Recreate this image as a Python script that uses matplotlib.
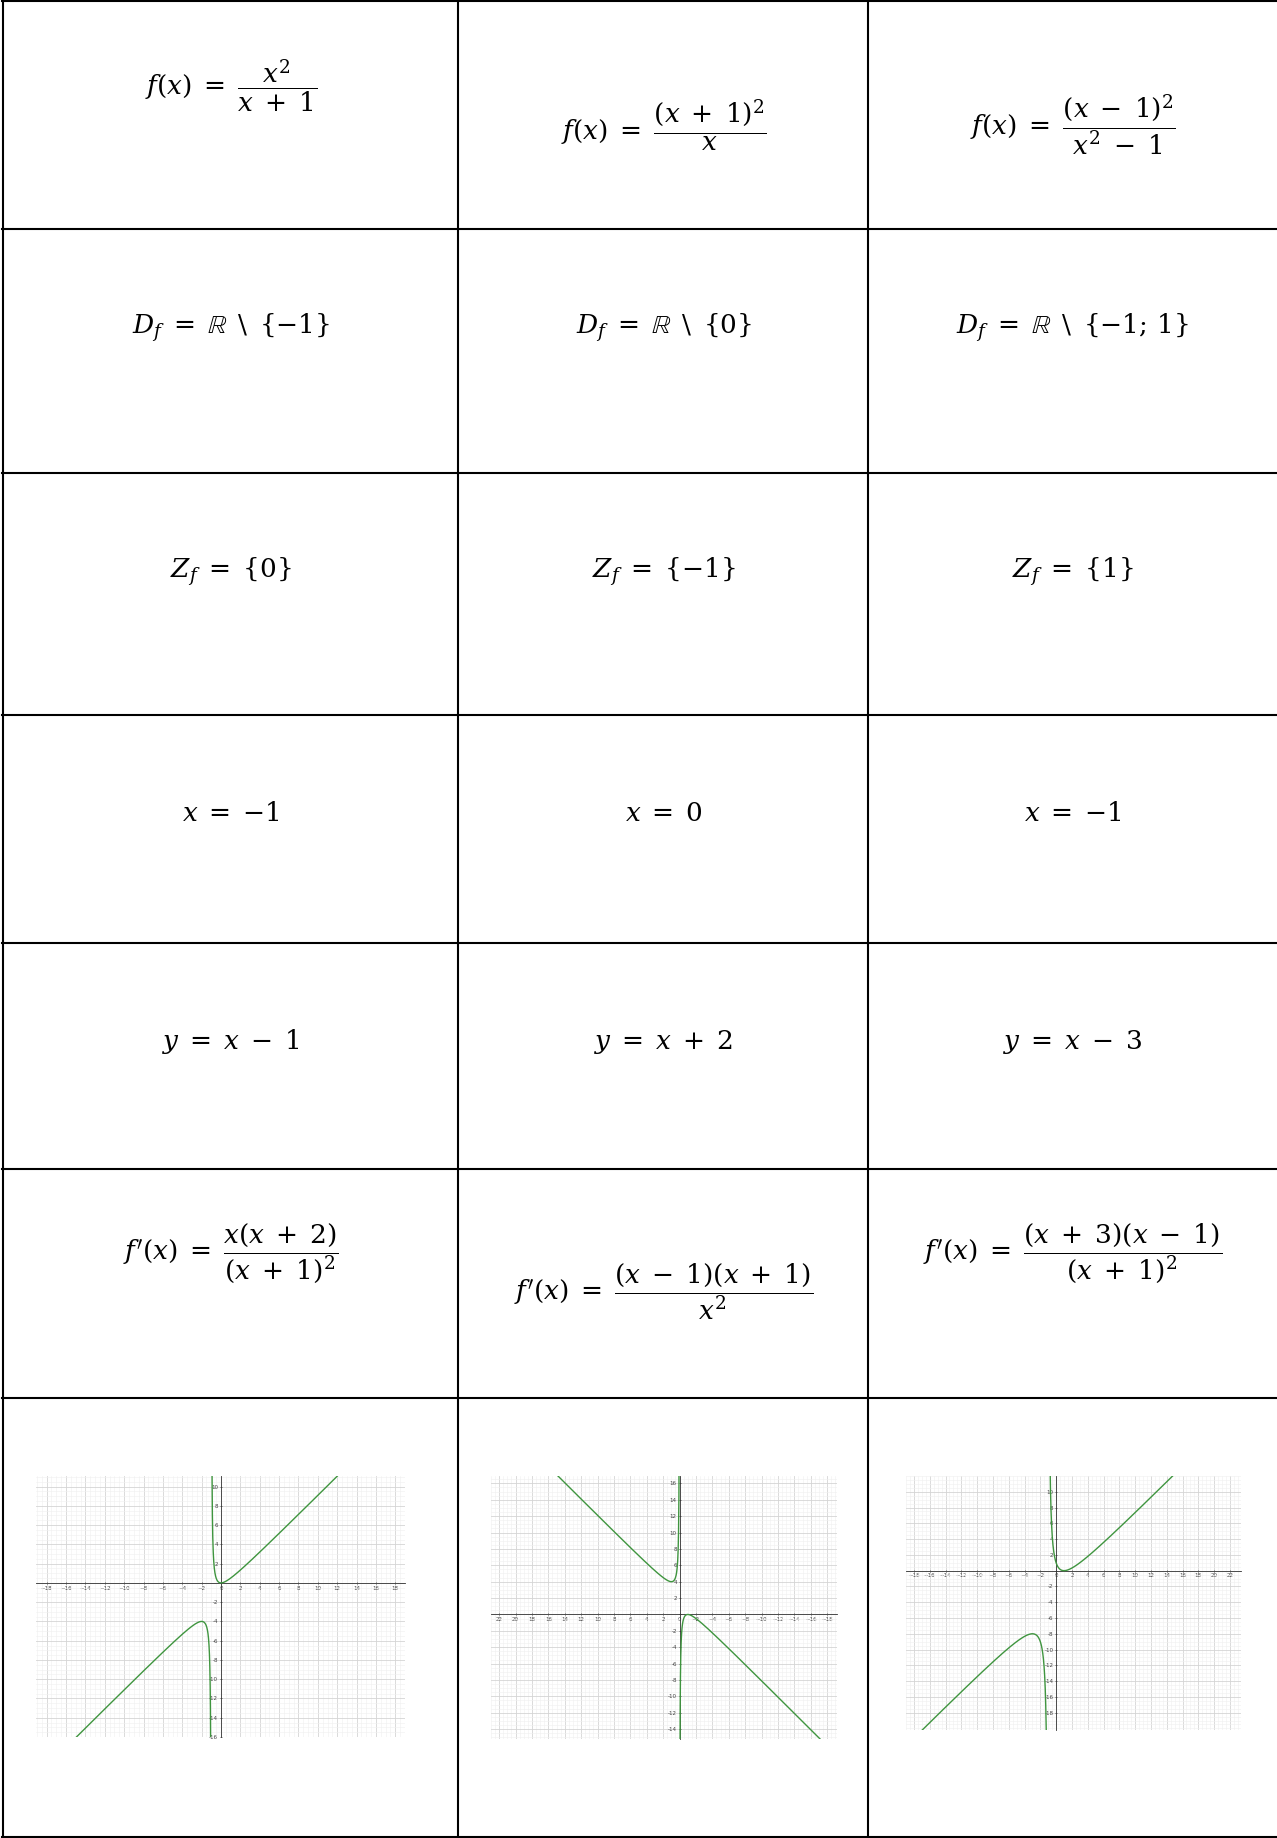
import numpy as np
import matplotlib.pyplot as plt
from matplotlib.lines import Line2D
from matplotlib.ticker import MultipleLocator, FuncFormatter

W, H = 1277, 1838
plt.rcParams['mathtext.fontset'] = 'dejavuserif'

# ----------------------------
# Table content
# ----------------------------
row1 = [r"$f(x)\;=\;\dfrac{x^2}{x\;+\;1}$",
        r"$f(x)\;=\;\dfrac{(x\;+\;1)^2}{x}$",
        r"$f(x)\;=\;\dfrac{(x\;-\;1)^2}{x^2\;-\;1}$"]
row2 = [r"$D_f\;=\;\mathbb{R}\enspace\backslash\enspace\{-1\}$",
        r"$D_f\;=\;\mathbb{R}\enspace\backslash\enspace\{0\}$",
        r"$D_f\;=\;\mathbb{R}\enspace\backslash\enspace\{-1;\,1\}$"]
row3 = [r"$Z_f\;=\;\{0\}$", r"$Z_f\;=\;\{-1\}$", r"$Z_f\;=\;\{1\}$"]
row4 = [r"$x\;=\;{-1}$", r"$x\;=\;0$", r"$x\;=\;{-1}$"]
row5 = [r"$y\;=\;x\;-\;1$", r"$y\;=\;x\;+\;2$", r"$y\;=\;x\;-\;3$"]
row6 = [r"$f'(x)\;=\;\dfrac{x(x\;+\;2)}{(x\;+\;1)^2}$",
        r"$f'(x)\;=\;\dfrac{(x\;-\;1)(x\;+\;1)}{x^2}$",
        r"$f'(x)\;=\;\dfrac{(x\;+\;3)(x\;-\;1)}{(x\;+\;1)^2}$"]
rows = [row1, row2, row3, row4, row5, row6]

# graph data: numerator a*x^2 + b*x + c, denominator d*x + e
graph_num = [(1, 0, 0), (1, 2, 1), (1, -2, 1)]
graph_den = [(1, 1), (1, 0), (1, 1)]
graph_pole = [-1, 0, -1]
graph_xticks = [np.arange(-18, 19, 2), np.arange(-18, 23, 2), np.arange(-18, 23, 2)]
graph_yticks = [np.arange(-16, 11, 2), np.arange(-14, 17, 2), np.arange(-18, 11, 2)]
graph_xlim = [(-19.1, 19.0), (23.0, -19.2), (-19.0, 23.4)]
graph_ylim = [(-15.9, 11.1), (-15.2, 16.9), (-20.2, 12.0)]

# ----------------------------
# Layout (pixels)
# ----------------------------
col_lines = [3, 458, 868]
row_lines = [1, 229, 473, 715, 943, 1169, 1398, 1837]
col_centers = [231, 664, 1073]
text_y = [[86, 125, 125], [328] * 3, [572] * 3, [814] * 3, [1042] * 3,
          [1253, 1292, 1253]]
graph_box = [(36, 1476, 405, 1737), (491, 1476, 837, 1739), (906, 1476, 1241, 1730)]


def fx(x):
    return x / W


def fy(y):
    return 1 - y / H


fig = plt.figure(figsize=(W / 100, H / 100), dpi=100)

for x in col_lines:
    fig.add_artist(Line2D([fx(x), fx(x)], [fy(0), fy(H)], color="black", lw=1.5))
for y in row_lines:
    fig.add_artist(Line2D([fx(2), fx(W)], [fy(y), fy(y)], color="black", lw=1.5))

for r, texts in enumerate(rows):
    for c, t in enumerate(texts):
        fig.text(fx(col_centers[c]), fy(text_y[r][c]), t, fontsize=19,
                 ha="center", va="center")

# ----------------------------
# Graphs
# ----------------------------
label_fmt = FuncFormatter(lambda v, p: "" if v == 0 else f"{v:g}")
for i in range(3):
    x0, y0, x1, y1 = graph_box[i]
    ax = fig.add_axes([fx(x0), fy(y1), fx(x1 - x0), (y1 - y0) / H])
    ax.set_xlim(graph_xlim[i])
    ax.set_ylim(graph_ylim[i])
    ax.set_xticks(graph_xticks[i])
    ax.set_yticks(graph_yticks[i])
    ax.xaxis.set_minor_locator(MultipleLocator(0.5))
    ax.yaxis.set_minor_locator(MultipleLocator(0.5))
    ax.yaxis.set_major_formatter(label_fmt)
    ax.grid(which="major", color="#d4d4d4", lw=0.6)
    ax.grid(which="minor", color="#f0f0f0", lw=0.4)
    for s in ["top", "right"]:
        ax.spines[s].set_visible(False)
    ax.spines["left"].set_position(("data", 0))
    ax.spines["bottom"].set_position(("data", 0))
    for s in ["left", "bottom"]:
        ax.spines[s].set_linewidth(0.6)
        ax.spines[s].set_color("#333333")
    ax.tick_params(which="major", direction="inout", length=2, width=0.5,
                   labelsize=4, colors="#444444", pad=1)
    ax.tick_params(which="minor", length=0)

    a, b, c = graph_num[i]
    d, e = graph_den[i]
    p = graph_pole[i]
    lo, hi = sorted(graph_xlim[i])
    for xs in (np.linspace(lo, p - 1e-3, 2000), np.linspace(p + 1e-3, hi, 2000)):
        ys = (a * xs ** 2 + b * xs + c) / (d * xs + e)
        ax.plot(xs, ys, color="#3f953f", lw=1.0, zorder=3)

fig.savefig("out.png", dpi=100)
